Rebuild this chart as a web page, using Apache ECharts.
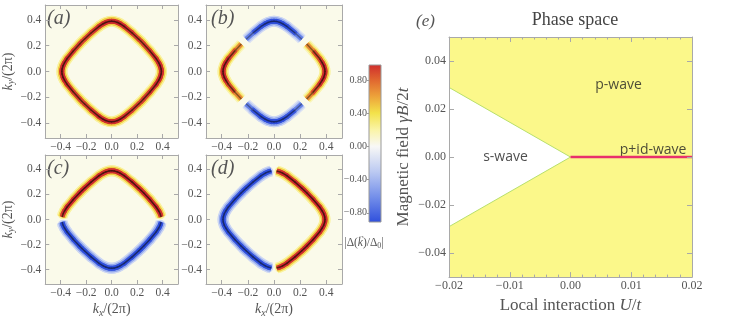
<!DOCTYPE html>
<html><head><meta charset="utf-8">
<script src="https://cdn.jsdelivr.net/npm/echarts@6/dist/echarts.min.js"></script>
<style>html,body{margin:0;padding:0;background:#fff}#c{width:747px;height:319px}</style>
</head><body><div id="c"></div>
<script>
// ---------- DATA ----------
// Fermi-surface ring (k/(2π))
const ringKx = [0.390,0.388,0.380,0.370,0.350,0.300,0.250,0.232,0.213,0.159,0.098,0.066,0.046,0.020,0.000,
 -0.020,-0.046,-0.066,-0.098,-0.159,-0.213,-0.232,-0.250,-0.300,-0.350,-0.370,-0.380,-0.388,-0.390,
 -0.388,-0.380,-0.370,-0.350,-0.300,-0.250,-0.232,-0.213,-0.159,-0.098,-0.066,-0.046,-0.020,0.000,
 0.020,0.046,0.066,0.098,0.159,0.213,0.232,0.250,0.300,0.350,0.370,0.380,0.388,0.390];
const ringKy = [0.000,0.020,0.046,0.066,0.098,0.159,0.213,0.232,0.250,0.300,0.350,0.370,0.380,0.388,0.390,
 0.388,0.380,0.370,0.350,0.300,0.250,0.232,0.213,0.159,0.098,0.066,0.046,0.020,0.000,
 -0.020,-0.046,-0.066,-0.098,-0.159,-0.213,-0.232,-0.250,-0.300,-0.350,-0.370,-0.380,-0.388,-0.390,
 -0.388,-0.380,-0.370,-0.350,-0.300,-0.250,-0.232,-0.213,-0.159,-0.098,-0.066,-0.046,-0.020,0.000];
// gap Δ(k)/Δ0 along the ring, per panel
const gapA = [1, 1,1,1,0.97,0.93,0.9,0.9,0.9,0.93,0.97,1,1,1,1,
 1,1,1,0.97,0.93,0.9,0.9,0.9,0.93,0.97,1,1,1,1,
 1,1,1,0.97,0.93,0.9,0.9,0.9,0.93,0.97,1,1,1,1,
 1,1,1,0.97,0.93,0.9,0.9,0.9,0.93,0.97,1,1,1,1];
const gapB = [1, 1,1,0.98,0.95,0.8,0.55,0,-0.55,-0.8,-0.95,-0.98,-1,-1,-1,
 -1,-1,-0.98,-0.95,-0.8,-0.55,0,0.55,0.8,0.95,0.98,1,1,1,
 1,1,0.98,0.95,0.8,0.55,0,-0.55,-0.8,-0.95,-0.98,-1,-1,-1,
 -1,-1,-0.98,-0.95,-0.8,-0.55,0,0.55,0.8,0.95,0.98,1,1,1];
const gapC = [0, 0.9,0.95,1,1,1,1,1,1,1,1,1,1,1,1,
 1,1,1,1,1,1,1,1,1,1,1,0.95,0.9,0,
 -0.9,-0.95,-1,-1,-1,-1,-1,-1,-1,-1,-1,-1,-1,-1,
 -1,-1,-1,-1,-1,-1,-1,-1,-1,-1,-1,-0.95,-0.9,0];
const gapD = [1, 1,1,1,1,1,1,1,1,1,1,1,0.95,0.9,0,
 -0.9,-0.95,-1,-1,-1,-1,-1,-1,-1,-1,-1,-1,-1,-1,
 -1,-1,-1,-1,-1,-1,-1,-1,-1,-1,-1,-0.95,-0.9,0,
 0.9,0.95,1,1,1,1,1,1,1,1,1,1,1,1];
const panelGaps = [gapA, gapB, gapC, gapD];
const panelNames = ['(a)','(b)','(c)','(d)'];
const kTicks = [-0.4,-0.2,0,0.2,0.4];
const kTickLabels = ['\u22120.4','\u22120.2','0.0','0.2','0.4'];
const cbTicks = [-0.8,-0.4,0,0.4,0.8];
const cbTickLabels = ['\u22120.80','\u22120.40','0.00','0.40','0.80'];
// phase diagram
const uTicks = [-0.02,-0.01,0,0.01,0.02];
const uTickLabels = ['\u22120.02','\u22120.01','0.00','0.01','0.02'];
const bTicks = [-0.04,-0.02,0,0.02,0.04];
const bTickLabels = ['\u22120.04','\u22120.02','0.00','0.02','0.04'];
const pRegionU = [-0.02,0.02,0.02,-0.02];
const pRegionB = [-0.05,-0.05,0.05,0.05];
const sRegionU = [-0.02,0,-0.02];
const sRegionB = [0.029,0,-0.029];
const pidLineU = [0,0.02];
const pidLineB = [0,0];
const phaseNames = ['p-wave','s-wave','p+id-wave'];
const phaseNameU = [0.0079,-0.0107,0.0136];
const phaseNameB = [0.0298,0,0.0029];

// ---------- STYLE ----------
const serif = "'Liberation Serif','DejaVu Serif',serif";
const txt = '#555';
const frame = '#a9a9a9';
const cmapValues = [-0.91,-0.6,-0.3,0,0.2,0.4,0.6,0.8,0.98];
const cmapColors = ['#2f4fdc','#7590ea','#bccaf2','#f8f8f6','#faf4a6','#f3e24a','#eda23a','#e0652f','#cf2d2d'];
function hex(h){return [parseInt(h.slice(1,3),16),parseInt(h.slice(3,5),16),parseInt(h.slice(5,7),16)];}
function cmapRgb(v){
  if (v<=cmapValues[0]) return hex(cmapColors[0]);
  for (let i=1;i<cmapValues.length;i++){
    if (v<=cmapValues[i]){
      const t=(v-cmapValues[i-1])/(cmapValues[i]-cmapValues[i-1]);
      const a=hex(cmapColors[i-1]), b=hex(cmapColors[i]);
      return a.map((c,j)=>c+(b[j]-c)*t);
    }
  }
  return hex(cmapColors[cmapColors.length-1]);
}
function rgb(c){return 'rgb('+c.map(x=>Math.round(x)).join(',')+')';}
const layerWidth = [11, 8, 5, 1.5];
function layerColor(L, v){
  if (L===0) return rgb(cmapRgb(0.22*v));
  if (L===1) return rgb(cmapRgb(0.47*v));
  if (L===2) return rgb(cmapRgb(v));
  const c=cmapRgb(v), f=1-(v>0?0.62:0.5)*Math.abs(v);
  return rgb(c.map(x=>x*f));
}
const heatGrids = [
  {left:42, top:5, width:136, height:133},
  {left:206, top:5, width:136, height:133},
  {left:42, top:155, width:136, height:134},
  {left:206, top:155, width:136, height:134}
];
const rich = {
  n:{fontFamily:serif,fontSize:14,color:txt},
  i:{fontFamily:serif,fontSize:14,color:txt,fontStyle:'italic'},
  s:{fontFamily:serif,fontSize:10,color:txt,fontStyle:'italic',verticalAlign:'bottom',padding:[7,0,0,0]}
};
function fmt(ticks, labels){return v=>{const i=ticks.findIndex(t=>Math.abs(t-v)<1e-9);return i<0?'':labels[i];};}

const grids=[], xAxes=[], yAxes=[], series=[];
heatGrids.forEach((g,p)=>{
  grids.push(Object.assign({show:true,backgroundColor:'#fafaea',borderWidth:0},g));
  const common = {gridIndex:p,type:'value',min:-0.52,max:0.52,z:10,splitLine:{show:false},
    axisLine:{show:true,onZero:false,lineStyle:{color:frame,width:1}},
    axisTick:{show:true,inside:true,length:4,customValues:kTicks,lineStyle:{color:frame}}};
  xAxes.push(Object.assign({},common,{position:'bottom',
    axisLabel:{customValues:kTicks,formatter:fmt(kTicks,kTickLabels),color:txt,fontFamily:serif,fontSize:11.5,margin:3},
    name: p>=2 ? '{i|k}{s|x}{n|/(2\u03c0)}' : '', nameLocation:'middle', nameGap:17, nameTextStyle:{rich}}));
  xAxes.push(Object.assign({},common,{position:'top',axisLabel:{show:false}}));
  yAxes.push(Object.assign({},common,{min:-0.515,max:0.515,position:'left',
    axisLabel:{customValues:kTicks,formatter:fmt(kTicks,kTickLabels),color:txt,fontFamily:serif,fontSize:11.5,margin:4},
    name: (p%2===0) ? '{i|k}{s|y}{n|/(2\u03c0)}' : '', nameLocation:'middle', nameGap:23, nameRotate:90, nameTextStyle:{rich}}));
  yAxes.push(Object.assign({},common,{min:-0.515,max:0.515,position:'right',axisLabel:{show:false}}));
  const vals = panelGaps[p];
  const n = ringKx.length-1;
  const drawn = i => vals[i]*vals[i+1] > 0;
  const data=[];
  for (let i=0;i<n;i++){
    if (!drawn(i)) continue;
    const prev=(i+n-1)%n, next=(i+1)%n;
    const end = (!drawn(prev) || !drawn(next)) ? 1 : 0;
    data.push([ringKx[i],ringKy[i],ringKx[i+1],ringKy[i+1],(vals[i]+vals[i+1])/2,end]);
  }
  for (let L=0;L<4;L++){
    series.push({type:'custom',xAxisIndex:2*p,yAxisIndex:2*p,silent:true,clip:false,
      dimensions:['x1','y1','x2','y2','v','end'],encode:{x:[0,2],y:[1,3]},data,
      renderItem:(params,api)=>{
        const a=api.coord([api.value(0),api.value(1)]), b=api.coord([api.value(2),api.value(3)]);
        const v=api.value(4);
        return {type:'line',shape:{x1:a[0],y1:a[1],x2:b[0],y2:b[1]},
          style:{stroke:layerColor(L,v),lineWidth:layerWidth[L],lineCap:api.value(5)?'butt':'round'}};
      }});
  }
});

// phase grid (index 4)
grids.push({left:449,top:37,width:243,height:243,show:false});
const nameRich = {n:{fontFamily:serif,fontSize:17,color:txt},i:{fontFamily:serif,fontSize:17,color:txt,fontStyle:'italic'}};
const pcommon = {gridIndex:4,type:'value',z:10,splitLine:{show:false},
  axisLine:{show:true,onZero:false,lineStyle:{color:frame,width:1}}};
xAxes.push(Object.assign({},pcommon,{position:'bottom',min:-0.02,max:0.02,interval:0.01,
  axisTick:{show:true,inside:true,length:5,lineStyle:{color:frame}},
  minorTick:{show:true,splitNumber:5,length:2.5,lineStyle:{color:frame}},
  axisLabel:{formatter:fmt(uTicks,uTickLabels),color:txt,fontFamily:serif,fontSize:12,margin:3},
  name:'{n|Local interaction }{i|U}{n|/}{i|t}',nameLocation:'middle',nameGap:19,
  nameTextStyle:{rich:nameRich}}));
xAxes.push(Object.assign({},pcommon,{position:'top',min:-0.02,max:0.02,interval:0.01,
  axisTick:{show:true,inside:true,length:5,lineStyle:{color:frame}},
  minorTick:{show:true,splitNumber:5,length:2.5,lineStyle:{color:frame}},axisLabel:{show:false}}));
yAxes.push(Object.assign({},pcommon,{position:'left',min:-0.05,max:0.05,
  axisTick:{show:true,inside:true,length:5,customValues:bTicks,lineStyle:{color:frame}},
  axisLabel:{customValues:bTicks,formatter:fmt(bTicks,bTickLabels),color:txt,fontFamily:serif,fontSize:12,margin:3},
  name:'{n|Magnetic field }{i|\u03b3B}{n|/2}{i|t}',nameLocation:'middle',nameGap:37,nameRotate:90,
  nameTextStyle:{rich:nameRich}}));
yAxes.push(Object.assign({},pcommon,{position:'right',min:-0.05,max:0.05,
  axisTick:{show:true,inside:true,length:5,customValues:bTicks,lineStyle:{color:frame}},axisLabel:{show:false}}));

function region(us,bs,color){
  return {type:'custom',xAxisIndex:8,yAxisIndex:8,silent:true,data:[[us[0],bs[0]]],
    renderItem:(params,api)=>({type:'polygon',shape:{points:us.map((u,i)=>api.coord([u,bs[i]]))},style:{fill:color}})};
}
series.push(region(pRegionU,pRegionB,'#fbf88a'));
series.push(region(sRegionU,sRegionB,'#ffffff'));
series.push({type:'line',xAxisIndex:8,yAxisIndex:8,symbol:'none',silent:true,
  data:sRegionU.map((u,i)=>[u,sRegionB[i]]),lineStyle:{color:'#b8e06c',width:1}});
series.push({type:'line',xAxisIndex:8,yAxisIndex:8,symbol:'none',silent:true,
  data:pidLineU.map((u,i)=>[u,pidLineB[i]]),lineStyle:{color:'#e8306c',width:2.5}});
series.push({type:'scatter',xAxisIndex:8,yAxisIndex:8,symbolSize:0,silent:true,
  data:phaseNames.map((s,i)=>[phaseNameU[i],phaseNameB[i],s]),
  label:{show:true,position:'inside',formatter:p=>p.data[2],fontFamily:"'Open Sans',sans-serif",fontSize:14,color:'#222'}});

// colorbar grid (index 5)
const cbMin=-0.91, cbMax=0.98;
grids.push({left:369,top:65,width:12,height:157,show:true,borderColor:'#999',borderWidth:1,
  backgroundColor:{type:'linear',x:0,y:0,x2:0,y2:1,
    colorStops:cmapValues.map((v,i)=>({offset:(cbMax-v)/(cbMax-cbMin),color:cmapColors[i]})).reverse()}});
xAxes.push({gridIndex:5,type:'value',min:0,max:1,show:false});
yAxes.push({gridIndex:5,type:'value',min:cbMin,max:cbMax,position:'left',splitLine:{show:false},
  axisLine:{show:false},axisTick:{show:true,length:2,customValues:cbTicks,lineStyle:{color:'#999'}},
  axisLabel:{customValues:cbTicks,formatter:fmt(cbTicks,cbTickLabels),color:txt,fontFamily:serif,fontSize:10,margin:2}});

const graphic = [];
panelNames.forEach((t,p)=>{
  graphic.push({type:'text',x:heatGrids[p].left+5,y:heatGrids[p].top+14,
    style:{text:t,font:'italic 20px '+serif,fill:txt,textVerticalAlign:'middle'}});
});
graphic.push({type:'text',x:416,y:22,style:{text:'(e)',font:'italic 17px '+serif,fill:txt,textVerticalAlign:'middle'}});
graphic.push({type:'text',x:575,y:20,style:{text:'Phase space',font:'18px '+serif,fill:'#444',textAlign:'center',textVerticalAlign:'middle'}});
// colorbar caption |Δ(k⃗)/Δ0| laid out piece by piece
(function(){
  const mctx=document.createElement('canvas').getContext('2d');
  const fN='11.5px '+serif, fI='italic 11.5px '+serif, fS='8px '+serif;
  const parts=[['|\u0394(',fN,0],['k',fI,0],[')/\u0394',fN,0],['0',fS,3],['|',fN,0]];
  const w=parts.map(p=>{mctx.font=p[1];return mctx.measureText(p[0]).width;});
  let x=364-w.reduce((a,b)=>a+b,0)/2; const y=243;
  parts.forEach((p,i)=>{
    graphic.push({type:'text',x:x,y:y+p[2],style:{text:p[0],font:p[1],fill:txt,textVerticalAlign:'middle'}});
    if (p[0]==='k') graphic.push({type:'text',x:x+w[i]/2+1,y:y-7,style:{text:'\u2192',font:'7px '+serif,fill:txt,textAlign:'center',textVerticalAlign:'middle'}});
    x+=w[i];
  });
})();

const chart = echarts.init(document.getElementById('c'),null,{renderer:'canvas'});
chart.setOption({animation:false,grid:grids,xAxis:xAxes,yAxis:yAxes,series,graphic});
</script></body></html>
